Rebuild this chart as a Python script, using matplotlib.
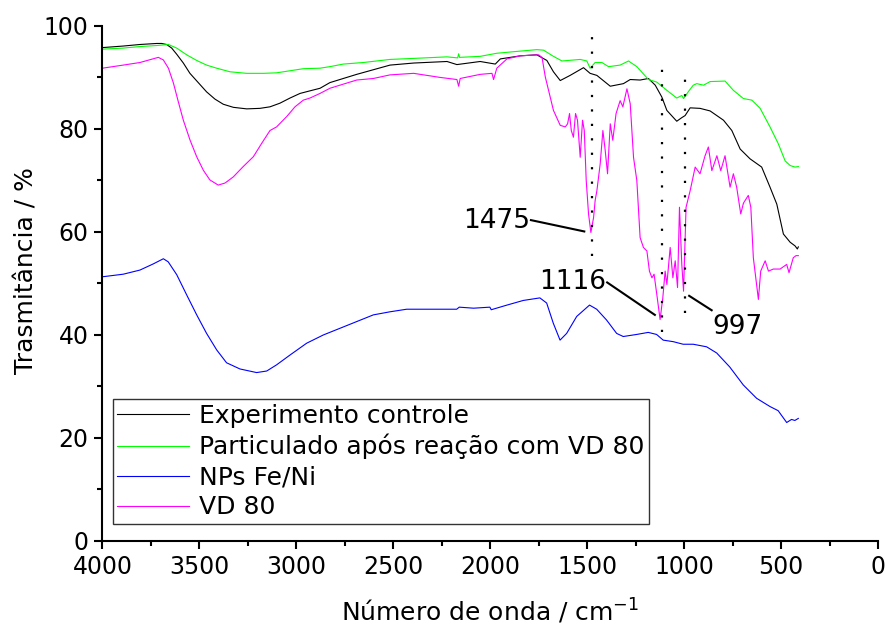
import matplotlib
matplotlib.use('Agg')
import matplotlib.pyplot as plt
from matplotlib.ticker import MultipleLocator

# --- data (wavenumber cm-1, transmittance %) ---
wn_controle = [4000, 3893, 3807, 3720, 3695, 3669, 3643, 3617, 3583, 3549, 3506, 3463,
               3420, 3377, 3325, 3256, 3188, 3136, 3085, 3033, 2981, 2930, 2878, 2827,
               2758, 2689, 2603, 2517, 2395, 2223, 2172, 2052, 1974, 1948, 1845, 1760,
               1708, 1674, 1639, 1588, 1519, 1485, 1450, 1381, 1313, 1278, 1227, 1184,
               1149, 1115, 1089, 1038, 1012, 995, 969, 918, 866, 797, 754, 711, 660,
               600, 557, 522, 488, 453, 428, 416, 411]
t_controle = [95.8, 96.1, 96.4, 96.6, 96.6, 96.4, 95.7, 94.5, 92.8, 90.8, 89.0, 87.2,
              85.8, 84.8, 84.2, 83.9, 84.0, 84.3, 85.0, 86.0, 86.9, 87.4, 87.9, 89.0,
              89.8, 90.6, 91.5, 92.4, 92.8, 93.1, 92.5, 93.1, 92.6, 93.6, 94.2, 94.4,
              93.3, 91.1, 89.4, 90.4, 91.9, 90.8, 90.4, 88.3, 88.8, 89.6, 89.5, 89.8,
              88.5, 86.2, 83.6, 81.5, 82.2, 82.6, 84.1, 84.0, 83.5, 81.7, 79.7, 76.1,
              74.2, 72.6, 68.7, 65.4, 59.6, 58.0, 57.3, 56.7, 57.1]

wn_partic = [4000, 3893, 3807, 3720, 3660, 3617, 3566, 3514, 3463, 3411, 3342, 3256,
             3170, 3102, 3033, 2964, 2878, 2827, 2758, 2655, 2517, 2395, 2223, 2168,
             2163, 2158, 2052, 1966, 1880, 1760, 1725, 1674, 1630, 1536, 1502, 1485,
             1459, 1424, 1390, 1330, 1287, 1244, 1184, 1141, 1089, 1038, 1012, 1003,
             979, 953, 935, 900, 866, 789, 746, 694, 651, 608, 557, 514, 479, 453,
             428, 411]
t_partic = [95.5, 95.7, 96.0, 96.2, 96.4, 95.7, 94.4, 93.3, 92.4, 91.8, 91.1, 90.8,
            90.8, 90.9, 91.3, 91.7, 91.8, 92.1, 92.6, 92.9, 93.5, 93.7, 94.0, 93.8,
            94.6, 93.9, 94.1, 94.7, 95.0, 95.4, 95.3, 94.1, 93.2, 93.5, 93.2, 91.8,
            92.9, 92.9, 92.1, 92.4, 93.2, 92.1, 89.6, 89.1, 87.5, 86.0, 86.5, 85.9,
            87.2, 88.5, 88.8, 88.5, 89.2, 89.3, 87.5, 85.9, 85.6, 84.0, 80.4, 77.1,
            73.8, 72.9, 72.6, 72.7]

wn_nps = [4000, 3893, 3807, 3738, 3686, 3661, 3617, 3566, 3514, 3463, 3411, 3360,
          3291, 3205, 3153, 3102, 3033, 2947, 2861, 2775, 2689, 2603, 2517, 2431,
          2346, 2173, 2160, 2086, 2002, 1995, 1914, 1830, 1744, 1709, 1675, 1640,
          1606, 1554, 1488, 1451, 1400, 1348, 1314, 1245, 1185, 1142, 1108, 1056,
          1005, 953, 884, 832, 765, 695, 626, 557, 515, 471, 446, 429, 411]
t_nps = [51.3, 51.8, 52.6, 53.8, 54.8, 54.2, 51.7, 47.8, 43.9, 40.3, 37.1, 34.6,
         33.4, 32.7, 33.0, 34.2, 36.1, 38.4, 40.0, 41.3, 42.6, 43.9, 44.5, 45.0,
         45.0, 45.0, 45.4, 45.2, 45.4, 44.9, 45.8, 46.7, 47.2, 46.2, 42.3, 39.0,
         40.3, 43.6, 45.8, 45.0, 42.9, 40.3, 39.7, 40.1, 40.5, 40.1, 39.0, 38.7,
         38.2, 38.2, 37.7, 36.5, 33.8, 30.3, 27.7, 26.1, 25.3, 23.0, 23.6, 23.4, 23.8]

wn_vd80 = [4000, 3893, 3807, 3712, 3686, 3660, 3634, 3609, 3583, 3549, 3514, 3480,
           3446, 3403, 3368, 3325, 3274, 3222, 3179, 3136, 3102, 3050, 3007, 2964,
           2930, 2878, 2827, 2758, 2689, 2603, 2517, 2395, 2257, 2172, 2163, 2155,
           2052, 1991, 1983, 1966, 1914, 1845, 1751, 1733, 1716, 1674, 1639, 1613,
           1601, 1591, 1582, 1571, 1560, 1550, 1536, 1524, 1515, 1505, 1493, 1481,
           1467, 1459, 1450, 1433, 1419, 1407, 1395, 1381, 1368, 1351, 1330, 1316,
           1295, 1278, 1261, 1244, 1227, 1210, 1192, 1179, 1166, 1155, 1141, 1124,
           1110, 1098, 1089, 1072, 1058, 1046, 1034, 1024, 1012, 1003, 990, 969, 943,
           918, 892, 875, 857, 831, 811, 789, 763, 746, 729, 708, 694, 669, 656, 643,
           617, 605, 582, 565, 540, 505, 471, 459, 437, 423, 411]
t_vd80 = [91.8, 92.4, 92.9, 93.9, 93.4, 91.8, 88.9, 85.3, 81.7, 77.9, 74.6, 72.0,
          70.1, 69.1, 69.5, 70.7, 72.7, 74.6, 77.2, 79.7, 80.4, 82.4, 84.3, 85.6,
          86.0, 86.9, 87.9, 88.7, 89.5, 89.8, 90.5, 90.8, 90.0, 89.6, 88.3, 89.8,
          90.6, 90.8, 89.6, 91.8, 93.6, 94.2, 94.4, 93.9, 90.1, 83.6, 80.7, 80.4,
          81.0, 83.0, 79.7, 78.4, 83.0, 81.7, 74.5, 81.7, 79.7, 70.0, 63.5, 59.9,
          62.8, 66.1, 68.0, 73.2, 79.7, 75.8, 71.3, 81.0, 77.8, 83.0, 85.5, 84.3,
          87.8, 84.9, 74.5, 70.0, 58.9, 57.0, 56.3, 52.4, 51.1, 51.8, 47.9, 43.0,
          47.2, 52.4, 49.8, 57.0, 51.1, 54.4, 49.2, 64.8, 53.7, 48.5, 64.8, 68.0, 72.6,
          71.3, 74.8, 76.5, 71.9, 74.8, 71.9, 74.8, 68.7, 71.3, 68.7, 63.5, 65.6, 67.1,
          64.8, 55.0, 46.9, 52.4, 54.4, 52.4, 52.8, 52.8, 53.7, 52.1, 55.0, 55.4, 55.4]

series_labels = ['Experimento controle', 'Particulado após reação com VD 80',
                 'NPs Fe/Ni', 'VD 80']
series_colors = ['black', '#00ff00', '#0000ff', '#ff00ff']

# marked bands: (wavenumber, dotted line from, to)
band_wn = [1475, 1116, 997]
band_top = [98.6, 91.8, 90.0]
band_bottom = [55.3, 40.6, 44.2]
# labels: text, text anchor, leader start, leader end
band_text = ['1475', '1116', '997']
band_text_xy = [(1795, 62.2), (1403, 50.3), (853, 41.6)]
band_line_from = [(1790, 62.3), (1397, 50.2), (974, 47.6)]
band_line_to = [(1515, 60.1), (1151, 43.9), (858, 44.8)]

plt.rcParams['font.family'] = ['DejaVu Sans']

fig = plt.figure(figsize=(8.85, 6.3), dpi=100)
ax = fig.add_axes([0.1158, 0.1413, 0.8763, 0.8175])

xs = [wn_controle, wn_partic, wn_nps, wn_vd80]
ys = [t_controle, t_partic, t_nps, t_vd80]
for x, y, lbl, c in zip(xs, ys, series_labels, series_colors):
    ax.plot(x, y, color=c, lw=0.8, label=lbl)

# dotted guide lines
for w, top, bot in zip(band_wn, band_top, band_bottom):
    ax.plot([w, w], [bot, top], color='black', lw=1.6, ls=(0, (1, 5.5)))

# band labels with leader lines
for txt, (tx, ty), (x0, y0), (x1, y1) in zip(band_text, band_text_xy,
                                              band_line_from, band_line_to):
    ha = 'left' if txt == '997' else 'right'
    ax.text(tx, ty, txt, fontsize=19, ha=ha, va='center')
    ax.plot([x0, x1], [y0, y1], color='black', lw=1.5)

ax.set_xlim(4000, 0)
ax.set_ylim(0, 100)
ax.xaxis.set_major_locator(MultipleLocator(500))
ax.xaxis.set_minor_locator(MultipleLocator(250))
ax.yaxis.set_major_locator(MultipleLocator(20))
ax.yaxis.set_minor_locator(MultipleLocator(10))

ax.spines['top'].set_visible(False)
ax.spines['right'].set_visible(False)
ax.spines['left'].set_linewidth(1.5)
ax.spines['bottom'].set_linewidth(1.5)
ax.tick_params(axis='both', which='major', direction='out', length=6, width=1.5,
               labelsize=17, pad=4)
ax.tick_params(axis='both', which='minor', direction='out', length=3.5, width=1.5)

ax.set_xlabel(r'Número de onda / cm$^{\mathregular{-1}}$', fontsize=18, labelpad=13)
ax.set_ylabel('Trasmitância / %', fontsize=18)
ax.yaxis.set_label_coords(-0.082, 0.526)

leg = ax.legend(loc='lower left', bbox_to_anchor=(0.0135, 0.033), borderaxespad=0,
                fontsize=18, frameon=True, fancybox=False, handlelength=2.85,
                handletextpad=0.4, labelspacing=0.24, borderpad=0.18)
leg.get_frame().set_edgecolor('black')
leg.get_frame().set_linewidth(1.0)
for line in leg.get_lines():
    line.set_linewidth(0.8)

fig.savefig('out.png', dpi=100)
